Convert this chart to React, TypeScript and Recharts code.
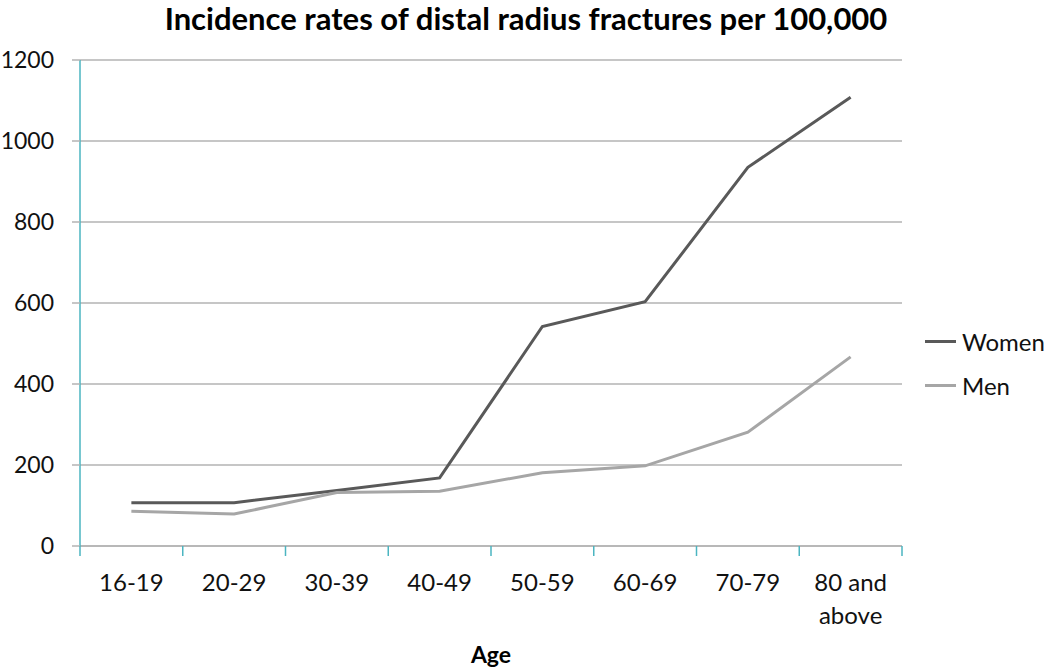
import { CartesianGrid, Legend, Line, LineChart, XAxis, YAxis } from "recharts";

const ageGroups = ["16-19", "20-29", "30-39", "40-49", "50-59", "60-69", "70-79", "80 and above"];
const women = [107, 107, 137, 168, 542, 603, 935, 1108];
const men = [86, 79, 132, 135, 181, 198, 281, 467];
const yTicks = [0, 200, 400, 600, 800, 1000, 1200];
const seriesOrder = ["Women", "Men"];

const data = ageGroups.map((age, i) => ({ age, Women: women[i], Men: men[i] }));

const W = 1050;
const H = 670;
const PLOT_LEFT = 80;
const PLOT_RIGHT = 902;
const HALF_BAND = (PLOT_RIGHT - PLOT_LEFT) / ageGroups.length / 2;
const TEAL = "#4bb5c1";
const GRID = "#b3b3b3";
const FONT = "Lato, 'Open Sans', sans-serif";

const AgeTick = (props: any) => {
  const { x, y, payload, index } = props;
  const label: string = payload.value;
  const cut = label.length > 6 ? label.lastIndexOf(" ") : -1;
  const lines = cut > 0 ? [label.slice(0, cut), label.slice(cut + 1)] : [label];
  const last = index === ageGroups.length - 1;
  return (
    <g>
      <line x1={x - HALF_BAND} x2={x - HALF_BAND} y1={y} y2={y + 10} stroke={TEAL} strokeWidth={1.5} />
      {last && <line x1={x + HALF_BAND} x2={x + HALF_BAND} y1={y} y2={y + 10} stroke={TEAL} strokeWidth={1.5} />}
      <text x={x} y={y + 45} textAnchor="middle" fontSize={24} fontFamily={FONT} fill="#111">
        {lines.map((l, i) => (
          <tspan key={i} x={x} dy={i === 0 ? 0 : 33}>
            {l}
          </tspan>
        ))}
      </text>
    </g>
  );
};

const LegendBox = (props: any) => {
  const items = [...(props.payload || [])].sort(
    (a: any, b: any) => seriesOrder.indexOf(a.value) - seriesOrder.indexOf(b.value)
  );
  return (
    <div style={{ fontFamily: FONT }}>
      {items.map((it: any) => (
        <div key={it.value} style={{ display: "flex", alignItems: "center", height: 44 }}>
          <div style={{ width: 31, height: 3, background: it.color, marginRight: 6 }} />
          <span style={{ fontSize: 24, color: "#111" }}>{it.value}</span>
        </div>
      ))}
    </div>
  );
};

export default function App() {
  return (
    <div style={{ position: "absolute", left: 0, top: 0, width: W, height: H, background: "#fff" }}>
      <div
        style={{
          position: "absolute",
          top: 0,
          left: 0,
          width: 1052,
          textAlign: "center",
          fontFamily: FONT,
          fontWeight: 700,
          fontSize: 31,
          lineHeight: 1.2,
          color: "#000",
          whiteSpace: "nowrap",
        }}
      >
        Incidence rates of distal radius fractures per 100,000
      </div>
      <LineChart width={W} height={H} data={data} margin={{ top: 60, right: W - PLOT_RIGHT, left: 0, bottom: 44 }}>
        <CartesianGrid vertical={false} stroke={GRID} strokeWidth={1.5} />
        <XAxis
          dataKey="age"
          interval={0}
          height={80}
          padding={{ left: HALF_BAND, right: HALF_BAND }}
          axisLine={{ stroke: GRID, strokeWidth: 1.5 }}
          tickLine={false}
          tickSize={0}
          tickMargin={0}
          tick={<AgeTick />}
          label={{
            value: "Age",
            position: "bottom",
            offset: 21,
            style: { fontFamily: FONT, fontWeight: 700, fontSize: 23, fill: "#000" },
          }}
        />
        <YAxis
          width={PLOT_LEFT}
          domain={[0, 1200]}
          ticks={yTicks}
          interval={0}
          axisLine={{ stroke: TEAL, strokeWidth: 1.5 }}
          tickLine={{ stroke: GRID, strokeWidth: 1.5 }}
          tickSize={8}
          tickMargin={18}
          tick={{ fontSize: 23, fontFamily: FONT, fill: "#111" }}
        />
        <Legend
          layout="horizontal"
          verticalAlign="middle"
          content={<LegendBox />}
          wrapperStyle={{ position: "absolute", left: 925, top: 319, width: 125 }}
        />
        <Line
          type="linear"
          dataKey="Women"
          stroke="#595959"
          strokeWidth={3}
          dot={false}
          isAnimationActive={false}
        />
        <Line
          type="linear"
          dataKey="Men"
          stroke="#a6a6a6"
          strokeWidth={3}
          dot={false}
          isAnimationActive={false}
        />
      </LineChart>
    </div>
  );
}
